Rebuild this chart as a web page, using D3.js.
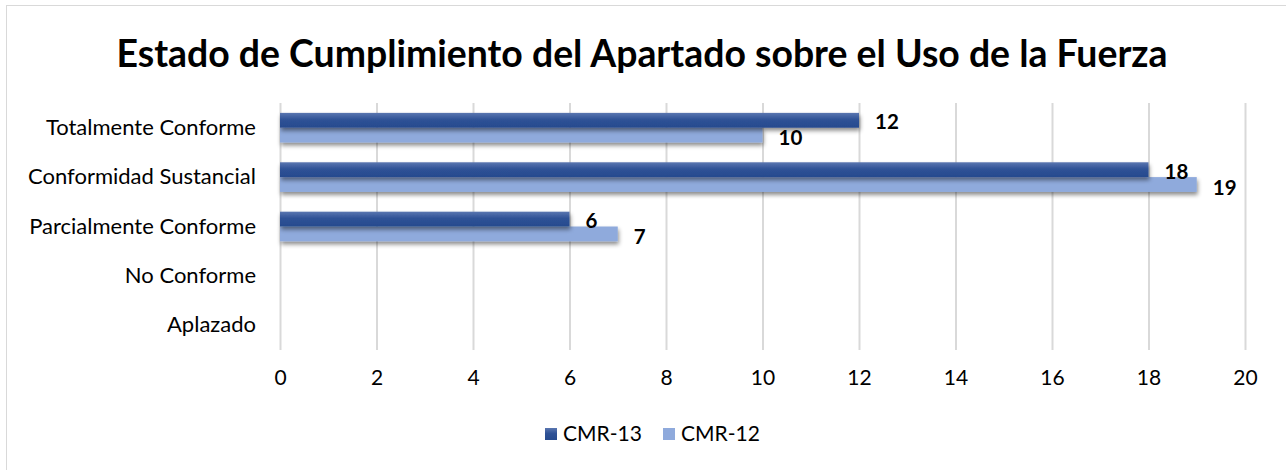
<!DOCTYPE html>
<html>
<head>
<meta charset="utf-8">
<script src="https://cdn.jsdelivr.net/npm/d3@7"></script>
<style>
  body { margin: 0; background: #fff; }
  text { font-family: Lato, "Open Sans", sans-serif; }
</style>
</head>
<body>
<div id="fig"></div>
<script>
var categories = ["Totalmente Conforme", "Conformidad Sustancial", "Parcialmente Conforme", "No Conforme", "Aplazado"];
var cmr13 = [12, 18, 6, 0, 0];
var cmr12 = [10, 19, 7, 0, 0];
var seriesNames = ["CMR-13", "CMR-12"];
var xTicks = [0, 2, 4, 6, 8, 10, 12, 14, 16, 18, 20];

var W = 1286, H = 470;
var plotL = 280, plotR = 1245, plotT = 103, plotB = 350;
var font = "Lato, 'Open Sans', sans-serif";

var svg = d3.select("#fig").append("svg")
    .attr("width", W)
    .attr("height", H);

var defs = svg.append("defs");
var grad = defs.append("linearGradient").attr("id", "darkGrad")
    .attr("x1", 0).attr("y1", 0).attr("x2", 0).attr("y2", 1);
grad.append("stop").attr("offset", "0%").attr("stop-color", "#5a76b0");
grad.append("stop").attr("offset", "45%").attr("stop-color", "#2f5296");
grad.append("stop").attr("offset", "100%").attr("stop-color", "#264a8e");
var shadow = defs.append("filter").attr("id", "shadow")
    .attr("x", "-5%").attr("y", "-50%").attr("width", "110%").attr("height", "250%");
shadow.append("feDropShadow").attr("dx", 1).attr("dy", 3).attr("stdDeviation", 2.2)
    .attr("flood-color", "#000").attr("flood-opacity", 0.45);

svg.append("rect")
    .attr("x", 6.5).attr("y", 5.5)
    .attr("width", W).attr("height", H)
    .attr("fill", "#fff").attr("stroke", "#d9d9d9");

svg.append("text")
    .attr("x", 642).attr("y", 67)
    .attr("text-anchor", "middle")
    .attr("font-size", 37.4).attr("font-weight", "bold")
    .attr("fill", "#000")
    .text("Estado de Cumplimiento del Apartado sobre el Uso de la Fuerza");

var x = d3.scaleLinear().domain([0, 20]).range([plotL, plotR]);
var y = d3.scaleBand().domain(categories).range([plotT, plotB]).paddingInner(0.4).paddingOuter(0.2);
var sub = d3.scaleBand().domain(seriesNames).range([0, y.bandwidth()]);

// grid
svg.append("g").selectAll("line").data(xTicks).join("line")
    .attr("x1", d => x(d) + 0.5).attr("x2", d => x(d) + 0.5)
    .attr("y1", plotT).attr("y2", plotB)
    .attr("stroke", "#d9d9d9").attr("stroke-width", 2);

// x axis labels
var xAxis = svg.append("g")
    .attr("transform", "translate(0," + (plotB + 8) + ")")
    .call(d3.axisBottom(x).tickValues(xTicks).tickSize(0).tickPadding(12));
xAxis.select(".domain").remove();
xAxis.selectAll("text").attr("font-size", 21).attr("fill", "#000")
    .style("font-family", font);

// y axis labels
var yAxis = svg.append("g")
    .attr("transform", "translate(" + (plotL - 24) + ",0)")
    .call(d3.axisLeft(y).tickSize(0).tickPadding(0));
yAxis.select(".domain").remove();
yAxis.selectAll("text").attr("font-size", 22).attr("fill", "#000")
    .style("font-family", font);

var bars = [];
categories.forEach(function(c, i) {
  bars.push({ cat: c, s: "CMR-13", v: cmr13[i] });
  bars.push({ cat: c, s: "CMR-12", v: cmr12[i] });
});

var g = svg.append("g");
g.selectAll("rect.bar").data(bars.filter(d => d.v > 0).reverse()).join("rect")
    .attr("class", "bar")
    .attr("x", x(0))
    .attr("y", d => y(d.cat) + sub(d.s))
    .attr("width", d => x(d.v) - x(0))
    .attr("height", sub.bandwidth())
    .attr("fill", d => d.s === "CMR-13" ? "url(#darkGrad)" : "#8faadc")
    .attr("filter", "url(#shadow)");

g.selectAll("text.val").data(bars.filter(d => d.v > 0)).join("text")
    .attr("class", "val")
    .attr("x", d => x(d.v) + 16)
    .attr("y", d => y(d.cat) + sub(d.s) + sub.bandwidth() / 2 + (d.s === "CMR-13" ? 2 : 3))
    .attr("dy", "0.35em")
    .attr("font-size", 20.5).attr("font-weight", "bold").attr("fill", "#000")
    .text(d => d.v);

// legend
var legend = svg.append("g").attr("transform", "translate(545,428)");
var legItems = [{ name: "CMR-13", fill: "url(#darkGrad)", x: 0 }, { name: "CMR-12", fill: "#8faadc", x: 118 }];
legItems.forEach(function(it) {
  legend.append("rect").attr("x", it.x).attr("y", 0).attr("width", 12).attr("height", 12).attr("fill", it.fill);
  legend.append("text").attr("x", it.x + 18).attr("y", 6).attr("dy", "0.35em")
      .attr("font-size", 21).attr("fill", "#000").text(it.name);
});
</script>
</body>
</html>
